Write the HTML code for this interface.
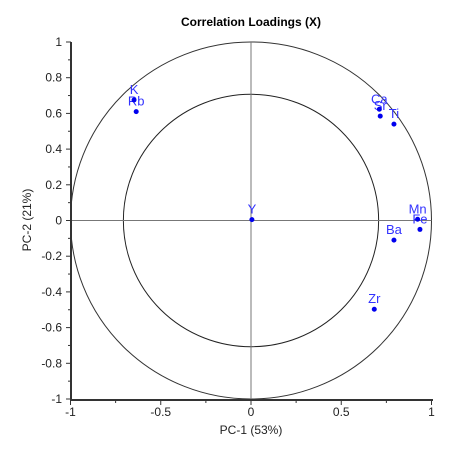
<!DOCTYPE html>
<html><head><meta charset="utf-8"><style>
body{margin:0;background:#fff}
svg{display:block;font-family:"Liberation Sans",Arial,sans-serif}
</style></head><body>
<svg id="chart" width="453" height="453">
<text x="251" y="26" text-anchor="middle" font-size="12" font-weight="bold">Correlation Loadings (X)</text>
<g id="axes"></g>
<g id="labels"></g>
<g id="marks"></g>
<text x="251" y="434" text-anchor="middle" font-size="12" fill="#222">PC-1 (53%)</text>
<text transform="translate(31,220) rotate(-90)" text-anchor="middle" font-size="12" fill="#222">PC-2 (21%)</text>
</svg>
<script>
const labels=["K","Rb","Ca","Sr","Ti","Mn","Fe","Ba","Zr","Y"];
const pc1=[-0.648,-0.636,0.711,0.716,0.792,0.923,0.936,0.792,0.683,0.005];
const pc2=[0.675,0.61,0.623,0.585,0.54,0.007,-0.05,-0.11,-0.497,0.005];
const xTicks=[-1,-0.5,0,0.5,1];
const yTicks=[1,0.8,0.6,0.4,0.2,0,-0.2,-0.4,-0.6,-0.8,-1];
const NS="http://www.w3.org/2000/svg";
const X=v=>251+v*180.5, Y=v=>220.5-v*178.5;
function mk(t,a,p){const e=document.createElementNS(NS,t);for(const k in a)e.setAttribute(k,a[k]);p.appendChild(e);return e;}
const ax=document.getElementById('axes'),mg=document.getElementById('marks'),lg=document.getElementById('labels');
let c=mk('ellipse',{cx:X(0),cy:Y(0),rx:180.5,ry:178.5,fill:'none',stroke:'#333','stroke-width':1},ax);

c=mk('ellipse',{cx:X(0),cy:Y(0),rx:180.5*Math.SQRT1_2,ry:178.5*Math.SQRT1_2,fill:'none',stroke:'#222','stroke-width':1},ax);

let l=mk('line',{x1:X(-1),x2:X(1),y1:Y(0),y2:Y(0),stroke:'#777'},ax);

l=mk('line',{x1:X(0),x2:X(0),y1:Y(1),y2:Y(-1),stroke:'#777'},ax);

l=mk('line',{x1:71,x2:71,y1:Y(1),y2:400,stroke:'#333','stroke-width':2},ax);

l=mk('line',{x1:70,x2:433,y1:400,y2:400,stroke:'#333','stroke-width':2},ax);

for(let i=-4;i<=4;i++){mk('line',{x1:X(i/4),x2:X(i/4),y1:400,y2:i%2?403:405,stroke:'#333'},ax);}
for(let i=-10;i<=10;i++){mk('line',{x1:71,x2:i%2?68:66,y1:Y(i/10),y2:Y(i/10),stroke:'#333'},ax);}
xTicks.forEach(v=>{const t=mk('text',{x:X(v),y:416,'text-anchor':'middle','font-size':12,fill:'#222'},ax);t.textContent=String(v);
});
yTicks.forEach(v=>{const t=mk('text',{x:62,y:Y(v)+4,'text-anchor':'end','font-size':12,fill:'#222'},ax);t.textContent=String(v);
});
labels.forEach((n,i)=>{
const t=mk('text',{x:X(pc1[i]),y:Y(pc2[i])-6,'text-anchor':'middle','font-size':13,fill:'#3333ff'},lg);t.textContent=n;

const p=mk('circle',{cx:X(pc1[i]),cy:Y(pc2[i]),r:2.5,fill:'#0000ee'},mg);
});
</script>
</body></html>
